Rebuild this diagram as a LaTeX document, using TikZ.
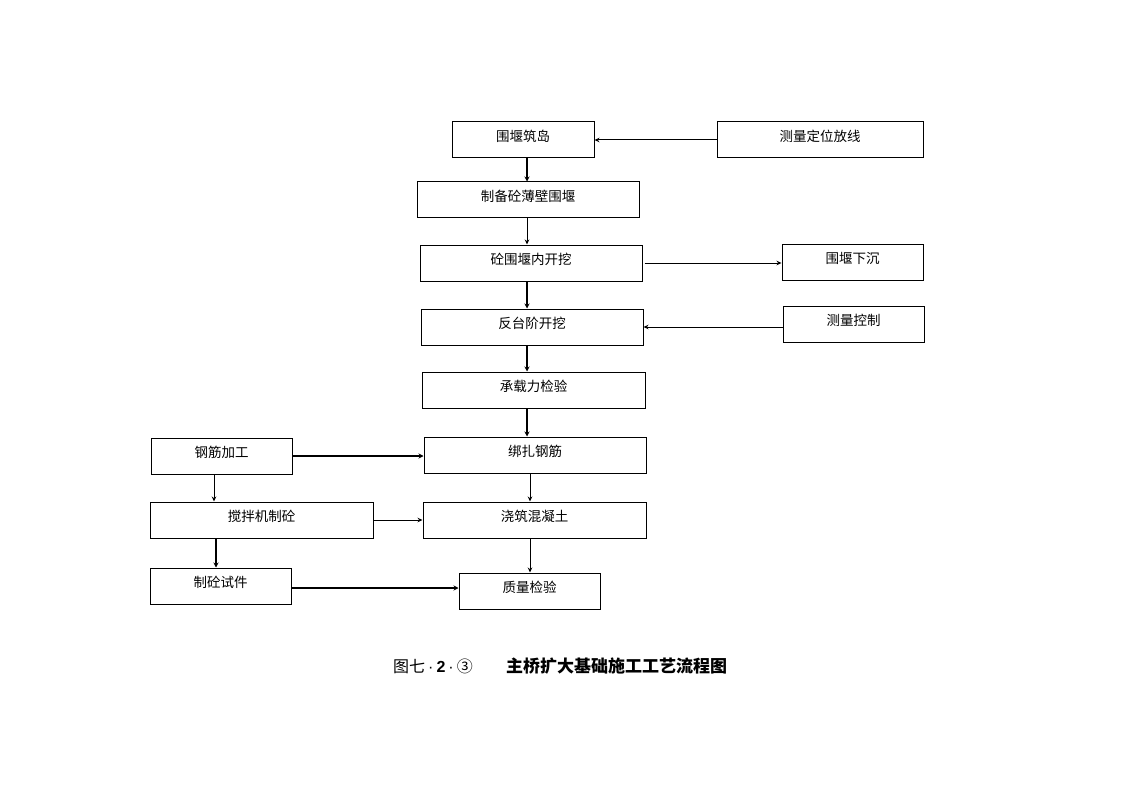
\documentclass[tikz,border=0pt]{standalone}
\usepackage{fontspec}
\newfontfamily\cjk{Noto Sans CJK SC}
\newfontfamily\lat{Liberation Sans}
\usetikzlibrary{arrows.meta}
\tikzset{
  x=1pt,y=-1pt,
  box/.style={draw,line width=1pt,minimum height=36pt,inner sep=0pt,font=\cjk\fontsize{13.5}{14}\selectfont},
  thin arrow/.style={line width=1pt,-{Stealth[length=5pt,width=4.5pt]}},
  thick arrow/.style={line width=2pt,-{Stealth[length=5pt,width=5pt]}},
}
\newcommand{\up}[1]{\raisebox{-1.5pt}[0pt][0pt]{#1}}
\begin{document}
\begin{tikzpicture}
\useasboundingbox[fill=white] (0,0) rectangle (1123,794);
% boxes
\node[box,minimum width=142pt] (wy) at (523,140) {\up{围堰筑岛}};
\node[box,minimum width=206pt] (cl) at (820,140) {\up{测量定位放线}};
\node[box,minimum width=222pt] (zb) at (528,200) {\up{制备砼薄壁围堰}};
\node[box,minimum width=222pt] (kw) at (531,263) {\up{砼围堰内开挖}};
\node[box,minimum width=141pt] (xc) at (852.5,262) {\up{围堰下沉}};
\node[box,minimum width=222pt] (ft) at (532,327) {\up{反台阶开挖}};
\node[box,minimum width=141pt] (kz) at (853.5,324) {\up{测量控制}};
\node[box,minimum width=223pt] (cz) at (533.5,390) {\up{承载力检验}};
\node[box,minimum width=141pt] (gj) at (221.5,456) {\up{钢筋加工}};
\node[box,minimum width=222pt] (bz) at (535,455) {\up{绑扎钢筋}};
\node[box,minimum width=223pt] (jb) at (261.5,520) {\up{搅拌机制砼}};
\node[box,minimum width=223pt] (jz) at (534.5,520) {\up{浇筑混凝土}};
\node[box,minimum width=141pt] (sj) at (220.5,586) {\up{制砼试件}};
\node[box,minimum width=141pt] (zl) at (529.5,591) {\up{质量检验}};
% column x positions
\coordinate (mx) at (527,0);
\coordinate (gx) at (214,0);
\coordinate (bx) at (530,0);
\coordinate (jx) at (216,0);
\coordinate (sy) at (0,588);
% connectors
\draw[thin arrow] (cl.west) -- (wy.east);
\draw[thick arrow] (wy.south -| mx) -- (zb.north -| mx);
\draw[thin arrow] (zb.south -| mx) -- (kw.north -| mx);
\draw[thin arrow] ([xshift=2pt]kw.east) -- (kw.east -| xc.west);
\draw[thick arrow] (kw.south -| mx) -- (ft.north -| mx);
\draw[thin arrow] (kz.west |- ft.east) -- (ft.east);
\draw[thick arrow] (ft.south -| mx) -- (cz.north -| mx);
\draw[thick arrow] (cz.south -| mx) -- (bz.north -| mx);
\draw[thick arrow] (gj.east) -- (gj.east -| bz.west);
\draw[thin arrow] (gj.south -| gx) -- (jb.north -| gx);
\draw[thin arrow] (bz.south -| bx) -- (jz.north -| bx);
\draw[thin arrow] (jb.east) -- (jz.west);
\draw[thick arrow] (jb.south -| jx) -- (sj.north -| jx);
\draw[thin arrow] (jz.south -| bx) -- (zl.north -| bx);
\draw[thick arrow] (sj.east |- sy) -- (zl.west |- sy);
% caption
\node[anchor=west,inner sep=0pt,font=\cjk\fontsize{16}{17}\selectfont] (cap1) at (393,666) {图七{\lat\hspace{3pt}·\hspace{3pt}}{\lat\bfseries 2}{\lat\hspace{3pt}·\hspace{3pt}}③};
\node[anchor=west,inner sep=0pt,font=\cjk\bfseries\fontsize{17}{17}\selectfont] (cap2) at (506,666) {主桥扩大基础施工工艺流程图};
\end{tikzpicture}
\end{document}
